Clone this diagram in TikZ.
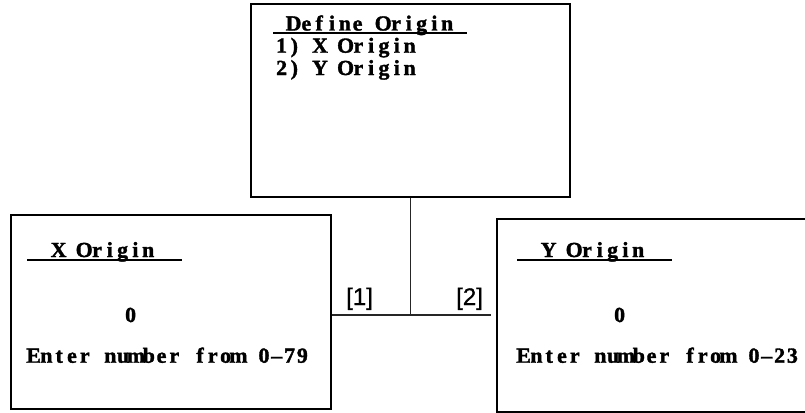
\documentclass[tikz,border=0pt]{standalone}
\usepackage{fontspec}
\newfontfamily\scrfont{Liberation Serif}[FakeStretch=1.02,BoldFeatures={FakeBold=1.6}]
\newfontfamily\lblfont{Liberation Sans}[FakeBold=0.8]
\ExplSyntaxOn
\NewDocumentCommand\monotext{m}{\str_map_inline:nn{#1}{\makebox[12.8pt]{##1}}}
\ExplSyntaxOff
\begin{document}
\begin{tikzpicture}[x=1pt,y=-1pt,
  screen/.style={draw=black,line width=1.6pt},
  scrtext/.style={anchor=base west,inner sep=0pt,font=\scrfont\bfseries\fontsize{21.5}{22}\selectfont},
  lbl/.style={anchor=base west,inner sep=0pt,font=\lblfont\fontsize{24}{26}\selectfont},
  uline/.style={line width=1.8pt},
  conn/.style={line width=1.3pt,draw=black!85}]
\useasboundingbox (0,0) rectangle (805,412);
\begin{scope}
\clip (0,0) rectangle (805,412);
% boxes
\node[screen,minimum width=319pt,minimum height=193pt,anchor=north west,inner sep=0pt] (top) at (250,3) {};
\node[screen,minimum width=320pt,minimum height=194pt,anchor=north west,inner sep=0pt] (xo) at (10,214) {};
\node[screen,minimum width=330pt,minimum height=193pt,anchor=north west,inner sep=0pt] (yo) at (496,218) {};
\end{scope}
% top box text
\node[scrtext] (t1) at (287,30.5) {\monotext{Define Origin}};
\draw[uline] (273,33.3) -- (467,33.3);
\node[scrtext] (t2) at (275,52.7) {\monotext{1) X Origin}};
\node[scrtext] (t3) at (275,75) {\monotext{2) Y Origin}};
% left box text
\node[scrtext] (x1) at (52,257) {\monotext{X Origin}};
\draw[uline] (27,260) -- (182,260);
\node[scrtext] (x2) at (124,322) {\monotext{0}};
\node[scrtext] (x3) at (27,362.7) {\monotext{Enter number from 0–79}};
% right box text
\node[scrtext] (y1) at (542,257) {\monotext{Y Origin}};
\draw[uline] (517,260) -- (672,260);
\node[scrtext] (y2) at (613,322) {\monotext{0}};
\node[scrtext] (y3) at (517,362.7) {\monotext{Enter number from 0–23}};
% connectors
\coordinate (j) at (top.south |- 0,315);
\coordinate (re) at (491,315);
\draw[conn] (top.south) -- (j);
\draw[conn] (xo.east |- j) -- (re);
\node[lbl] (l1) at (346,305) {[1]};
\node[lbl] (l2) at (456,305) {[2]};
\end{tikzpicture}
\end{document}
